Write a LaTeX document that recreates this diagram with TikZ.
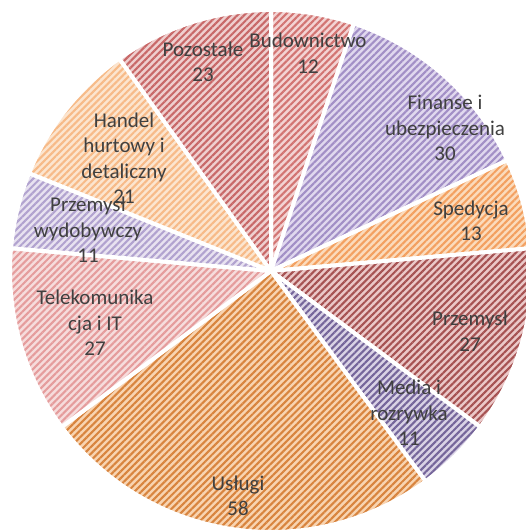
\documentclass[tikz,border=0pt]{standalone}
\usepackage{fontspec}
\setmainfont{Carlito}
\usetikzlibrary{patterns.meta}
\definecolor{txt}{HTML}{404040}
\definecolor{bgA}{HTML}{F3D3D3}\definecolor{stA}{HTML}{D27472}
\definecolor{bgB}{HTML}{E0D8EE}\definecolor{stB}{HTML}{A28FC6}
\definecolor{bgC}{HTML}{FBDBBC}\definecolor{stC}{HTML}{F3A060}
\definecolor{bgD}{HTML}{EBC8C8}\definecolor{stD}{HTML}{A65252}
\definecolor{bgE}{HTML}{D9D2E5}\definecolor{stE}{HTML}{75659A}
\definecolor{bgF}{HTML}{F8D4B1}\definecolor{stF}{HTML}{D8843E}
\definecolor{bgG}{HTML}{F6DCDC}\definecolor{stG}{HTML}{E59C9C}
\definecolor{bgH}{HTML}{E8E2F0}\definecolor{stH}{HTML}{B1A2CF}
\definecolor{bgI}{HTML}{FCE5CF}\definecolor{stI}{HTML}{F7BA88}
\definecolor{bgJ}{HTML}{EFCFCF}\definecolor{stJ}{HTML}{C86868}
\tikzset{
  slice/.style 2 args={fill=#1,
    postaction={pattern={Lines[angle=45,distance=4.8pt,line width=2.1pt]}, pattern color=#2},
    postaction={draw=white, line width=4pt, line join=round}},
  lbl/.style={align=center, text=txt, font=\fontsize{21}{25.5}\selectfont, inner sep=0pt}
}
\newcommand{\pieslice}[4]{%
  \path[slice={#3}{#4}] (271,260) -- ++(#1:261) arc[start angle=#1, end angle=#2, radius=261] -- cycle;}
\begin{document}
\begin{tikzpicture}[x=1pt,y=1pt]
\useasboundingbox (0,0) rectangle (526,531);
\clip (0,0) rectangle (526,531);
\coordinate (c) at (271,260);
\pieslice{90}{71.46}{bgA}{stA}
\pieslice{71.46}{25.11}{bgB}{stB}
\pieslice{25.11}{5.02}{bgC}{stC}
\pieslice{5.02}{-36.70}{bgD}{stD}
\pieslice{-36.70}{-53.69}{bgE}{stE}
\pieslice{-53.69}{-143.30}{bgF}{stF}
\pieslice{-143.30}{-185.02}{bgG}{stG}
\pieslice{-185.02}{-202.02}{bgH}{stH}
\pieslice{-202.02}{-234.46}{bgI}{stI}
\pieslice{-234.46}{-270}{bgJ}{stJ}
\node[lbl] (budownictwo) at (308,478) {Budownictwo\\12};
\node[lbl] (finanse) at (445,403) {Finanse i\\ubezpieczenia\\30};
\node[lbl] (spedycja) at (471,310) {Spedycja\\13};
\node[lbl] (przemysl) at (470,200) {Przemysł\\27};
\node[lbl] (media) at (409,118) {Media i\\rozrywka\\11};
\node[lbl] (uslugi) at (238,35) {Usługi\\58};
\node[lbl] (telekom) at (95,208) {Telekomunika\\cja i IT\\27};
\node[lbl] (wydobywczy) at (88,301) {Przemysł\\wydobywczy\\11};
\node[lbl] (handel) at (124,373) {Handel\\hurtowy i\\detaliczny\\21};
\node[lbl] (pozostale) at (203,469) {Pozostałe\\23};
\end{tikzpicture}
\end{document}
